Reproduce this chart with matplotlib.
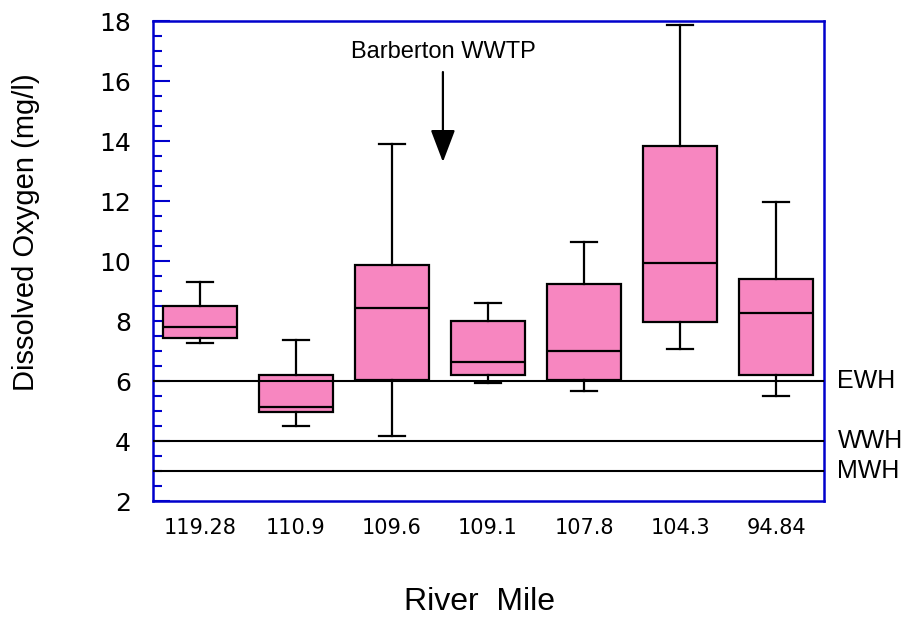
import matplotlib
matplotlib.use('Agg')
import matplotlib.pyplot as plt
from matplotlib.patches import ArrowStyle
from matplotlib.ticker import MultipleLocator
import matplotlib.transforms as mtransforms

# dissolved oxygen summary per sampling site (box = quartiles, whiskers = range)
river_miles = ['119.28', '110.9', '109.6', '109.1', '107.8', '104.3', '94.84']
whisker_low = [7.27, 4.51, 4.17, 5.93, 5.66, 7.08, 5.49]
q1 = [7.44, 4.96, 6.03, 6.19, 6.03, 7.98, 6.19]
median = [7.81, 5.14, 8.42, 6.63, 7.00, 9.92, 8.26]
q3 = [8.50, 6.19, 9.86, 8.00, 9.23, 13.83, 9.39]
whisker_high = [9.30, 7.36, 13.91, 8.59, 10.64, 17.86, 11.98]

# aquatic life use criteria
criteria_names = ['EWH', 'WWH', 'MWH']
criteria_values = [6, 4, 3]

wwtp_label = 'Barberton WWTP'
wwtp_pos = 3.53
wwtp_arrow = (16.3, 13.3)

BLUE = '#0000CC'
PINK = '#F786C0'
SANS = ['Liberation Sans', 'DejaVu Sans']

fig = plt.figure(figsize=(9.07, 6.2), dpi=100)
ax = fig.add_axes([0.1687, 0.1919, 0.7398, 0.7742])

stats = [
    dict(label=lab, whislo=lo, q1=a, med=m, q3=b, whishi=hi, fliers=[])
    for lab, lo, a, m, b, hi in zip(river_miles, whisker_low, q1, median, q3, whisker_high)
]
positions = list(range(1, len(stats) + 1))
line = dict(color='black', linewidth=1.6)
ax.bxp(stats, positions=positions, widths=0.78, capwidths=0.27,
       patch_artist=True, showfliers=False,
       boxprops=dict(facecolor=PINK, edgecolor='black', linewidth=1.6),
       medianprops=line, whiskerprops=line, capprops=line, zorder=2)

trans = mtransforms.blended_transform_factory(ax.transAxes, ax.transData)
for name, val in zip(criteria_names, criteria_values):
    ax.axhline(val, color='black', linewidth=1.5, zorder=3)
    ax.text(1.02, val, name, transform=trans, ha='left', va='center',
            fontsize=18, family=SANS, clip_on=False)

ax.text(wwtp_pos, 16.97, wwtp_label, ha='center', va='center', fontsize=17, family=SANS)
ax.annotate('', xy=(wwtp_pos, wwtp_arrow[1]), xytext=(wwtp_pos, wwtp_arrow[0]),
            arrowprops=dict(arrowstyle=ArrowStyle('-|>', head_length=1.0, head_width=0.38),
                            mutation_scale=20, color='black', linewidth=1.6,
                            shrinkA=0, shrinkB=0))

ax.set_xlim(0.51, 7.5)
ax.set_ylim(2, 18)
ax.yaxis.set_major_locator(MultipleLocator(2))
ax.yaxis.set_minor_locator(MultipleLocator(0.5))
ax.tick_params(axis='y', which='major', direction='in', length=12, width=1.5,
               color=BLUE, pad=16, labelsize=18)
ax.tick_params(axis='y', which='minor', direction='in', length=6.5, width=1.5, color=BLUE)
ax.tick_params(axis='x', which='both', length=0, pad=12, labelsize=15)

for sp in ax.spines.values():
    sp.set_color(BLUE)
    sp.set_linewidth(1.8)

ax.set_ylabel('Dissolved Oxygen (mg/l)', fontsize=21, family=SANS, va='center')
ax.yaxis.set_label_coords(-0.189, 0.56)
ax.set_xlabel('River  Mile', fontsize=23, family=SANS, va='center')
ax.xaxis.set_label_coords(0.487, -0.21)

fig.savefig('out.png', dpi=100)
